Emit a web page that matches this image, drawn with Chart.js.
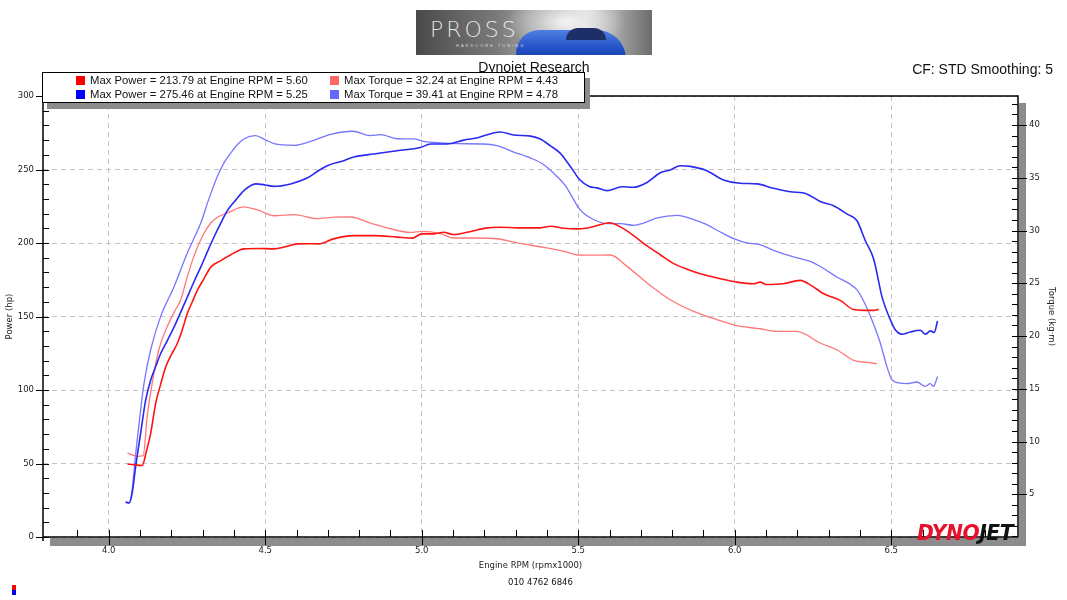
<!DOCTYPE html>
<html><head><meta charset="utf-8">
<script src="https://cdn.jsdelivr.net/npm/chart.js@4.4.1/dist/chart.umd.min.js"></script>
<style>
html,body{margin:0;padding:0;background:#fff;}
#wrap{position:relative;width:1067px;height:600px;overflow:hidden;font-family:"Liberation Sans",Arial,sans-serif;color:#111;}
#c{position:absolute;left:0;top:0;}
#logo{position:absolute;left:416px;top:10px;width:236px;height:45px;overflow:hidden;
 background:radial-gradient(ellipse 60px 30px at 150px 12px,#f4f4f4 0%,rgba(230,230,230,0.6) 40%,rgba(0,0,0,0) 100%),
 linear-gradient(90deg,#4a4a4a 0%,#7b7b7b 35%,#b9b9b9 60%,#e6e6e6 72%,#9a9a9a 88%,#6c6c6c 100%);}
#logo .car{position:absolute;left:100px;top:20px;width:110px;height:34px;border-radius:40px 50px 8px 8px;
 background:linear-gradient(180deg,#4f7fe0 0%,#2250c8 55%,#1a3a90 100%);}
#logo .glass{position:absolute;left:150px;top:18px;width:40px;height:12px;border-radius:14px 14px 0 0;background:#1d2f66;}
#logo .txt{position:absolute;left:14px;top:7px;font-family:"DejaVu Sans",sans-serif;font-size:22px;letter-spacing:3px;color:rgba(255,255,255,0.85);font-weight:300;}
#logo .sub{position:absolute;left:40px;top:33px;font-size:4px;letter-spacing:2px;color:#ddd;}
#title{position:absolute;left:434px;width:200px;top:59px;text-align:center;font-size:14px;z-index:1;}
#cf{position:absolute;right:14px;top:61px;font-size:14px;}
#legend{position:absolute;left:42px;top:72px;width:541px;height:29px;border:1px solid #000;background:#fff;box-shadow:5px 6px 0 #8c8c8c;z-index:2;font-size:11.3px;}
#legend .it{position:absolute;white-space:nowrap;line-height:13px;}
#legend .sq{display:inline-block;width:9px;height:9px;margin-right:5px;vertical-align:-1px;}
#dyno{position:absolute;left:917px;top:522px;font-family:"DejaVu Sans",sans-serif;font-weight:bold;font-style:italic;font-size:22px;line-height:22px;letter-spacing:-0.5px;z-index:2;transform:scaleX(0.92);transform-origin:left top;white-space:nowrap;}
#dyno .r{color:#e8102a;}
#dyno .k{color:#111;}
#phone{position:absolute;left:0;width:1067px;top:577px;text-align:center;font-family:"DejaVu Sans",sans-serif;font-size:8.5px;padding-left:14px;box-sizing:border-box;}
#mk{position:absolute;left:12px;top:585px;width:4px;height:10px;background:linear-gradient(180deg,#f00 0 50%,#00f 50% 100%);}
</style></head><body>
<div id="wrap">
<canvas id="c" width="1067" height="600"></canvas>
<div id="logo"><div class="car"></div><div class="glass"></div><div class="txt">PROSS</div><div class="sub">HARDCORE TUNING</div></div>
<div id="title">Dynojet Research</div>
<div id="cf">CF: STD Smoothing: 5</div>
<div id="legend"></div>
<div id="dyno"><span class="r">DYNO</span><span class="k">JET</span></div>
<div id="phone">010 4762 6846</div>
<div id="mk"></div>
</div>
<script>
// ---------- DATA ----------
const rpmPower1 = [4.06,4.085,4.107,4.12,4.134,4.15,4.166,4.182,4.2,4.219,4.235,4.251,4.267,4.283,4.305,4.326,4.358,4.39,4.432,4.48,4.528,4.565,4.602,4.64,4.67,4.718,4.783,4.847,4.921,4.97,5.0,5.039,5.07,5.10,5.145,5.18,5.209,5.252,5.305,5.379,5.411,5.454,5.502,5.55,5.60,5.64,5.677,5.72,5.762,5.805,5.85,5.89,5.954,6.007,6.06,6.081,6.10,6.156,6.209,6.245,6.284,6.337,6.38,6.41,6.444,6.46];
const power1 = [49.7,49,48.6,58,70.5,90.9,104,115.7,124,131.6,141,152,160,167.8,176,183.6,188,192,196,196.3,196,197.5,199.4,199.5,199.4,202.8,205,205,204,203.3,206.2,206.2,207.3,205.8,207.3,209,210.3,210.7,210.3,210.3,211.4,210,209.6,211.2,213.79,210.3,205,198,192,186,182,179.1,175.7,173.4,172.3,173.4,171.8,172.3,174.6,171,165.5,161,154.7,154.2,154.2,154.9];

const rpmTorque1 = [4.06,4.091,4.11,4.123,4.139,4.16,4.187,4.21,4.23,4.25,4.272,4.3,4.326,4.35,4.379,4.43,4.48,4.528,4.592,4.666,4.72,4.772,4.836,4.90,4.964,5.0,5.06,5.10,5.177,5.24,5.305,5.39,5.454,5.5,5.55,5.603,5.656,5.72,5.794,5.869,5.943,6.007,6.06,6.081,6.134,6.198,6.273,6.326,6.38,6.422,6.454];
const torque1 = [8.9,8.6,8.66,12.4,15.55,18.7,20.9,22.3,23.44,25.5,27.55,29.5,30.71,31.3,31.66,32.24,31.9,31.4,31.5,31.12,31.26,31.28,30.71,30.17,29.82,29.92,29.7,29.29,29.29,29.22,28.82,28.4,28.02,27.68,27.66,27.68,26.6,25.03,23.44,22.33,21.55,20.98,20.76,20.69,20.44,20.44,19.34,18.7,17.69,17.5,17.38];

const rpmPower2 = [4.054,4.065,4.075,4.086,4.102,4.118,4.134,4.15,4.166,4.188,4.209,4.23,4.251,4.272,4.294,4.315,4.336,4.358,4.379,4.405,4.432,4.469,4.5,4.528,4.581,4.634,4.665,4.698,4.751,4.783,4.847,4.921,4.996,5.028,5.081,5.134,5.182,5.209,5.25,5.294,5.348,5.379,5.411,5.443,5.475,5.505,5.535,5.56,5.592,5.64,5.675,5.72,5.762,5.794,5.826,5.858,5.911,5.964,6.017,6.071,6.124,6.177,6.23,6.273,6.316,6.358,6.39,6.417,6.444,6.471,6.498,6.514,6.534,6.561,6.593,6.609,6.625,6.637,6.648];
const power2 = [23.7,23.1,29.9,47.9,70.6,93.1,106.7,116,124.8,134,142.9,153,163.2,173.5,183.6,194,203.9,213.5,222,229,235.6,240.2,239.5,238.5,240.2,244.2,248.5,252.6,256,258.5,260.5,262.8,265,267.3,267.3,270,271.8,273.6,275.46,273.5,272.7,270.7,266.1,261,252,243,238.5,237.5,235.6,238.3,237.9,241.2,247.8,249.7,252.6,252.1,249.2,242.9,240.6,240.2,237.2,234.9,233.4,228.3,225.4,219.8,215.3,201.7,189,163,147.4,140.6,137.9,139.5,140.6,137.9,140.2,139.1,146.9];

const rpmTorque2 = [4.054,4.065,4.075,4.086,4.1,4.113,4.134,4.166,4.209,4.251,4.294,4.32,4.347,4.37,4.39,4.41,4.432,4.469,4.5,4.528,4.592,4.645,4.709,4.78,4.836,4.868,4.921,4.974,5.006,5.06,5.113,5.198,5.24,5.294,5.348,5.39,5.433,5.46,5.486,5.505,5.528,5.56,5.592,5.635,5.677,5.709,5.752,5.816,5.869,5.911,5.954,5.997,6.039,6.081,6.124,6.188,6.241,6.284,6.326,6.369,6.39,6.412,6.438,6.465,6.486,6.502,6.524,6.55,6.582,6.609,6.625,6.635,6.648];
const torque2 = [4.3,4.2,5.5,8.8,12.5,15.55,18.7,21.86,24.7,27.87,30.71,33.0,35.13,36.5,37.35,38.1,38.68,38.99,38.6,38.23,38.07,38.45,39.12,39.41,38.99,39.08,38.7,38.68,38.45,38.3,38.23,38.2,38.04,37.44,36.87,36.24,35.1,34.2,32.9,32.0,31.4,30.9,30.65,30.65,30.49,30.71,31.19,31.43,31.03,30.55,29.86,29.23,28.82,28.66,28.12,27.49,27.07,26.4,25.6,24.9,24.39,23.3,21.55,19.34,17.12,15.86,15.55,15.48,15.64,15.23,15.48,15.23,16.17];

const maxPower = [213.79, 275.46];
const maxPowerRpm = [5.60, 5.25];
const maxTorque = [32.24, 39.41];
const maxTorqueRpm = [4.43, 4.78];

const rpmTicks = [4.0, 4.5, 5.0, 5.5, 6.0, 6.5];
const powerTicks = [0, 50, 100, 150, 200, 250, 300];
const torqueTicks = [5, 10, 15, 20, 25, 30, 35, 40];

const colDarkRed = '#ff1414', colLightRed = '#ff7878', colDarkBlue = '#2a2af0', colLightBlue = '#7676ff';

// ---------- LEGEND ----------
const lg = document.getElementById('legend');
const items = [
  {l:33, t:1, c:'#ff0000', s:`Max Power = ${maxPower[0].toFixed(2)} at Engine RPM = ${maxPowerRpm[0].toFixed(2)}`},
  {l:33, t:15, c:'#0000ff', s:`Max Power = ${maxPower[1].toFixed(2)} at Engine RPM = ${maxPowerRpm[1].toFixed(2)}`},
  {l:287, t:1, c:'#ff6666', s:`Max Torque = ${maxTorque[0].toFixed(2)} at Engine RPM = ${maxTorqueRpm[0].toFixed(2)}`},
  {l:287, t:15, c:'#6666ff', s:`Max Torque = ${maxTorque[1].toFixed(2)} at Engine RPM = ${maxTorqueRpm[1].toFixed(2)}`}
];
items.forEach(it=>{
  const d=document.createElement('div'); d.className='it'; d.style.left=it.l+'px'; d.style.top=it.t+'px';
  d.innerHTML=`<span class="sq" style="background:${it.c}"></span>${it.s}`; lg.appendChild(d);
});

// ---------- CHART ----------
const pts = (xs, ys) => xs.map((x,i)=>({x, y: ys[i]}));
const tickFont = {family:'"DejaVu Sans", sans-serif', size:8.5};

const framePlugin = {
  id:'frame',
  afterDraw(chart){
    const {ctx, chartArea:a, scales} = chart;
    const L=a.left, R=a.right, T=a.top, B=a.bottom;
    ctx.save();
    ctx.fillStyle='#8c8c8c';
    ctx.fillRect(R+1, T+7, 7, B-T+2);
    ctx.fillRect(L+7, B+1, R-L+1, 8);
    ctx.strokeStyle='#000'; ctx.lineWidth=1.5;
    ctx.beginPath(); ctx.moveTo(L,T); ctx.lineTo(R,T); ctx.lineTo(R,B); ctx.lineTo(L,B); ctx.closePath(); ctx.stroke();
    ctx.beginPath(); ctx.moveTo(L,B); ctx.lineTo(L,B+4); ctx.stroke();
    ctx.lineWidth=1;
    ctx.beginPath();
    const py = v=>Math.round(scales.y.getPixelForValue(v))+0.5;
    const ty = v=>Math.round(scales.y1.getPixelForValue(v))+0.5;
    const px = v=>Math.round(scales.x.getPixelForValue(v))+0.5;
    for(let v=0; v<=300; v+=10){ const y=py(v); ctx.moveTo(L,y); ctx.lineTo(L+6,y); }
    powerTicks.forEach(v=>{ const y=py(v); ctx.moveTo(L-7,y); ctx.lineTo(L,y); });
    for(let v=1; v<=42; v+=1){ const y=ty(v); ctx.moveTo(R-6,y); ctx.lineTo(R,y); }
    torqueTicks.forEach(v=>{ const y=ty(v); ctx.moveTo(R,y); ctx.lineTo(R+9,y); });
    for(let k=39; k<=68; k++){ const x=px(k/10); if(x<=L+1||x>=R-1) continue; ctx.moveTo(x,B); ctx.lineTo(x,B-7); }
    rpmTicks.forEach(v=>{ const x=px(v); ctx.moveTo(x,B); ctx.lineTo(x,B+8); });
    ctx.stroke();
    ctx.restore();
  }
};

new Chart(document.getElementById('c'), {
  type:'line',
  data:{ datasets:[
    {label:'Power 1', data:pts(rpmPower1,power1), yAxisID:'y', borderColor:colDarkRed, borderWidth:1.6},
    {label:'Power 2', data:pts(rpmPower2,power2), yAxisID:'y', borderColor:colDarkBlue, borderWidth:1.6},
    {label:'Torque 1', data:pts(rpmTorque1,torque1), yAxisID:'y1', borderColor:colLightRed, borderWidth:1.3},
    {label:'Torque 2', data:pts(rpmTorque2,torque2), yAxisID:'y1', borderColor:colLightBlue, borderWidth:1.3}
  ]},
  options:{
    responsive:false, animation:false, devicePixelRatio:1,
    parsing:true,
    elements:{ point:{radius:0}, line:{cubicInterpolationMode:'monotone', fill:false} },
    layout:{ padding:{top:96, left:0, right:0, bottom:0} },
    plugins:{ legend:{display:false}, tooltip:{enabled:false}, title:{display:false} },
    scales:{
      x:{ type:'linear', position:'bottom', min:3.79, max:6.905,
        afterFit:s=>{ s.height=63; },
        afterBuildTicks:s=>{ s.ticks = rpmTicks.map(v=>({value:v})); },
        ticks:{ font:tickFont, color:'#222', padding:9, autoSkip:false, maxRotation:0, callback:v=>Number(v).toFixed(1) },
        grid:{ color:'#c4c4c4', lineWidth:1, drawTicks:false },
        border:{ display:false, dash:[5,4] },
        title:{ display:true, text:'Engine RPM (rpmx1000)', font:{family:'"DejaVu Sans", sans-serif', size:8.5}, color:'#222', padding:{top:0,bottom:29} }
      },
      y:{ type:'linear', position:'left', min:0, max:300,
        afterFit:s=>{ s.width=43; },
        afterBuildTicks:s=>{ s.ticks = powerTicks.map(v=>({value:v})); },
        ticks:{ font:tickFont, color:'#222', padding:9 },
        grid:{ color:'#c4c4c4', lineWidth:1, drawTicks:false },
        border:{ display:false, dash:[5,4] },
        title:{ display:true, text:'Power (hp)', font:{family:'"DejaVu Sans", sans-serif', size:8.5}, color:'#222', padding:{top:5,bottom:0} }
      },
      y1:{ type:'linear', position:'right', min:0.95, max:42.75,
        afterFit:s=>{ s.width=49; },
        afterBuildTicks:s=>{ s.ticks = torqueTicks.map(v=>({value:v})); },
        ticks:{ font:tickFont, color:'#222', padding:11 },
        grid:{ display:false, drawTicks:false },
        border:{ display:false },
        title:{ display:true, text:'Torque (kg·m)', font:{family:'"DejaVu Sans", sans-serif', size:8.5}, color:'#222', padding:{top:11,bottom:0} }
      }
    }
  },
  plugins:[framePlugin]
});
</script>
</body></html>
